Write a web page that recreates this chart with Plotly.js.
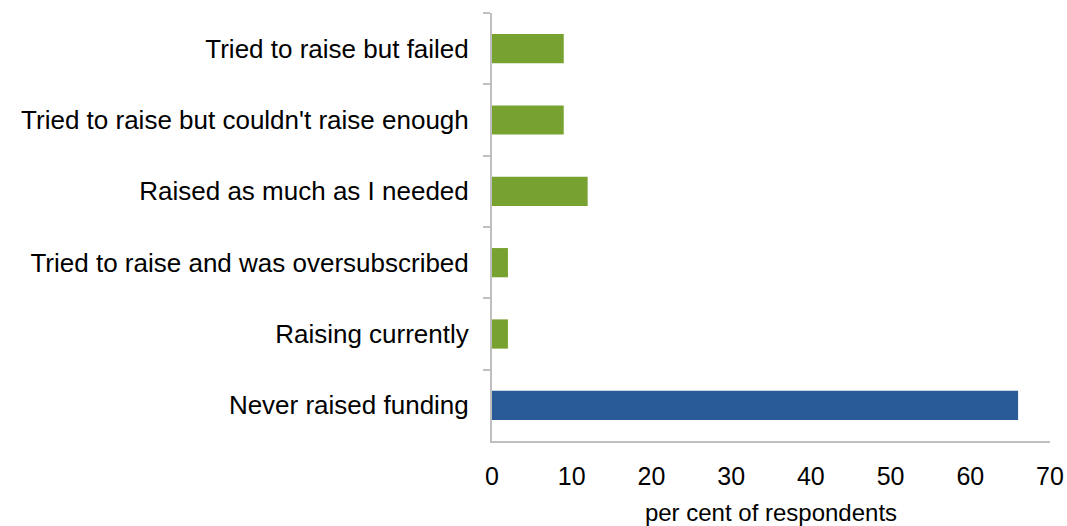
<!DOCTYPE html>
<html>
<head>
<meta charset="utf-8">
<script src="https://cdn.plot.ly/plotly-3.0.1.min.js"></script>
<style>html,body{margin:0;padding:0;background:#fff;}#chart{width:1067px;height:526px;}</style>
</head>
<body>
<div id="chart"></div>
<script>
// Data (top to bottom as shown)
const categories = [
  "Tried to raise but failed",
  "Tried to raise but couldn't raise enough",
  "Raised as much as I needed",
  "Tried to raise and was oversubscribed",
  "Raising currently",
  "Never raised funding"
];
const values = [9, 9, 12, 2, 2, 66];
const xTickValues = [0, 10, 20, 30, 40, 50, 60, 70];
const xAxisTitle = "per cent of respondents";

const GREEN = "#78a22f";
const BLUE = "#2a5b99";
const barColors = categories.map(c => c === "Never raised funding" ? BLUE : GREEN);

const trace = {
  type: "bar",
  orientation: "h",
  x: values,
  y: categories,
  marker: { color: barColors, line: { width: 0 } },
  hoverinfo: "x+y"
};

const layout = {
  width: 1067,
  height: 526,
  margin: { l: 492, r: 17, t: 13, b: 85 },
  paper_bgcolor: "#ffffff",
  plot_bgcolor: "#ffffff",
  font: { family: "Liberation Sans, Arial, sans-serif", size: 24, color: "#000000" },
  showlegend: false,
  bargap: 0.59,
  xaxis: {
    range: [0, 70],
    tickvals: xTickValues,
    ticktext: xTickValues.map(String),
    showgrid: false,
    zeroline: false,
    showline: true,
    linecolor: "#bfbfbf",
    linewidth: 2,
    ticks: "",
    ticklen: 0,
    ticklabelstandoff: 12,
    tickfont: { size: 25 },
    title: { text: xAxisTitle, font: { size: 24 }, standoff: 17 },
    fixedrange: true
  },
  yaxis: {
    type: "category",
    autorange: "reversed",
    showgrid: false,
    zeroline: false,
    showline: true,
    linecolor: "#bfbfbf",
    linewidth: 2,
    ticks: "outside",
    tickson: "boundaries",
    ticklen: 7,
    tickwidth: 2,
    tickcolor: "#bfbfbf",
    ticklabelstandoff: 16,
    tickfont: { size: 26 },
    fixedrange: true
  }
};

Plotly.newPlot("chart", [trace], layout, { displayModeBar: false, staticPlot: true });
</script>
</body>
</html>
